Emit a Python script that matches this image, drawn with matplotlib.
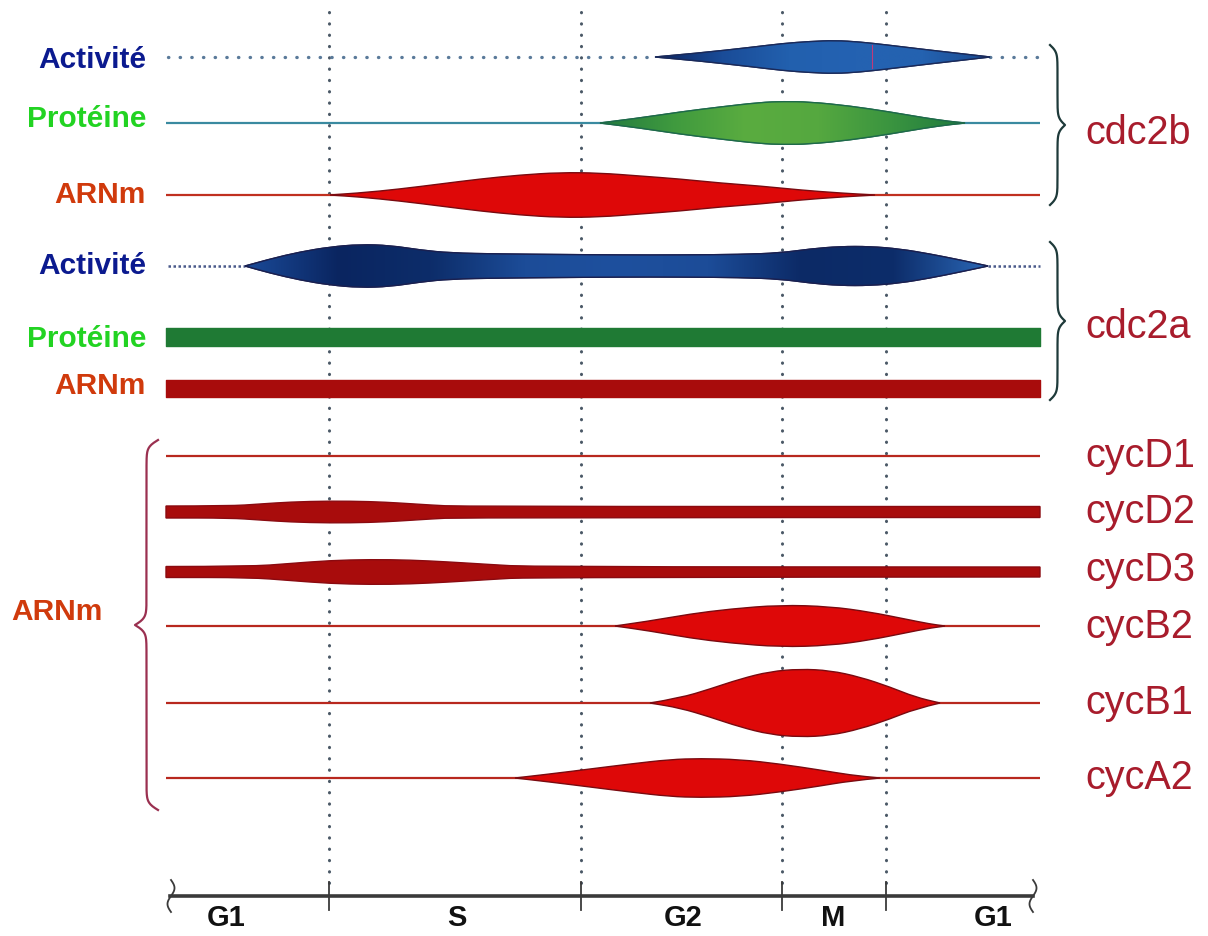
import numpy as np
import matplotlib.pyplot as plt
from matplotlib.colors import LinearSegmentedColormap
from matplotlib.path import Path
from matplotlib.patches import PathPatch

plt.rcParams['font.family'] = ['Liberation Sans', 'DejaVu Sans']

# cell cycle phases (x = position along the cycle, in picture units)
phase_edges = [329, 581, 782, 886]
phase_names = ['G1', 'S', 'G2', 'M', 'G1']
phase_centres = [226, 457, 683, 833, 993]
x_start, x_end = 166, 1040

# cdc2b
cdc2b_act_x = [655, 700, 750, 783, 810, 835, 860, 887, 920, 955, 990]
cdc2b_act_w = [0, 4, 9.5, 13.5, 15.5, 16.5, 15, 12, 8, 4, 0]
cdc2b_prot_x = [600, 640, 680, 720, 760, 783, 810, 850, 890, 925, 950, 965]
cdc2b_prot_w = [0, 5, 11, 16, 20.5, 21.5, 21, 17, 11, 5, 1.5, 0]
cdc2b_arn_x = [330, 360, 400, 440, 480, 520, 560, 600, 640, 680, 720, 760, 800, 840, 875]
cdc2b_arn_w = [0, 2, 6, 11, 16, 20, 22.5, 22, 19, 16, 12, 9, 5, 2, 0]

# cdc2a
cdc2a_act_x = [245, 270, 300, 330, 360, 390, 420, 450, 500, 560, 620, 680, 740,
               780, 810, 840, 870, 900, 930, 960, 988]
cdc2a_act_w = [0, 7, 14, 19, 21.5, 20.5, 16, 13, 12, 11.5, 11, 11, 11.5,
               13, 17, 19.5, 19.5, 17, 12, 6, 0]
cdc2a_prot_w = 9
cdc2a_arn_w = 8.5

# cyclines
cycD2_x = [166, 230, 260, 290, 330, 370, 400, 430, 460, 1040]
cycD2_w = [6, 6, 8, 10, 11, 10.5, 9, 7, 5.5, 5.5]
cycD3_x = [166, 250, 290, 330, 370, 410, 450, 490, 530, 1040]
cycD3_w = [5.5, 5.5, 8.5, 11.5, 12.5, 12, 10, 7.5, 5.2, 5]
cycB2_x = [615, 650, 690, 730, 780, 830, 870, 905, 930, 945]
cycB2_w = [0, 5, 12, 17, 21, 19.5, 14, 7, 2, 0]
cycB1_x = [650, 680, 710, 740, 770, 800, 830, 860, 890, 915, 940]
cycB1_w = [0, 5, 14, 24, 31.5, 34, 32.5, 26, 16, 6, 0]
cycA2_x = [515, 550, 590, 630, 670, 700, 740, 780, 820, 850, 880]
cycA2_w = [0, 4, 9, 14, 18.5, 19.5, 18.5, 14, 8, 3, 0]

left_labels = ['Activité', 'Protéine', 'ARNm', 'Activité', 'Protéine', 'ARNm']
right_labels = ['cycD1', 'cycD2', 'cycD3', 'cycB2', 'cycB1', 'cycA2']

NAVY = '#0b1a8f'
GREEN_TXT = '#22d322'
ORANGE = '#d03a0c'
WINE = '#a81c2c'
RED = '#de0808'
DARKRED = '#a80c0c'
DOT = '#4a5866'


def smooth_path(pts):
    # quadratic curve through the knots, using the knots as control points
    verts = [pts[0]]
    codes = [Path.MOVETO]
    for i in range(1, len(pts) - 1):
        mid = ((pts[i][0] + pts[i + 1][0]) / 2, (pts[i][1] + pts[i + 1][1]) / 2)
        verts += [pts[i], mid]
        codes += [Path.CURVE3, Path.CURVE3]
    verts.append(pts[-1])
    codes.append(Path.LINETO)
    return verts, codes


def shape(ax, yc, xs, hw, color, edge, grad=None):
    xs = np.asarray(xs, float)
    hw = np.asarray(hw, float)
    top = list(zip(xs, yc - hw))
    bot = list(zip(xs[::-1], (yc + hw)[::-1]))
    v1, c1 = smooth_path(top)
    v2, c2 = smooth_path(bot)
    c2[0] = Path.LINETO
    verts = v1 + v2 + [top[0]]
    codes = c1 + c2 + [Path.CLOSEPOLY]
    path = Path(verts, codes)
    p = PathPatch(path, facecolor=color, edgecolor=edge, lw=1.0, zorder=3)
    ax.add_patch(p)
    if grad:
        cmap = LinearSegmentedColormap.from_list('g', grad)
        img = ax.imshow(np.linspace(0, 1, 256)[None, :], cmap=cmap,
                        extent=[xs[0], xs[-1], yc + hw.max() + 1, yc - hw.max() - 1],
                        aspect='auto', interpolation='bilinear', zorder=3.5)
        img.set_clip_path(p)
        ax.add_patch(PathPatch(path, facecolor='none', edgecolor=edge, lw=1.0,
                               zorder=4))
    return p


def thin(ax, yc, color, lw=1.6):
    ax.plot([x_start, x_end], [yc, yc], color=color, lw=lw, zorder=2,
            solid_capstyle='butt')


def brace(ax, x0, y0, y1, w, color, lw=1.6, beta=0.28):
    half = (y1 - y0) / 2
    t = np.linspace(0, half, 200)
    h = 1 / (1 + np.exp(-beta * t)) + 1 / (1 + np.exp(-beta * (t - half))) - 0.5
    hh = np.concatenate([h, h[::-1]])
    yy = np.concatenate([y0 + t, y0 + half + t])
    ax.plot(x0 + w * hh, yy, color=color, lw=lw, zorder=2)


fig = plt.figure(figsize=(12.08, 9.36), dpi=100)
ax = fig.add_axes([0, 0, 1, 1])
ax.axis('off')

# vertical phase boundaries
for x in phase_edges:
    ax.plot([x, x], [12, 884], ls=(0, (0.1, 3.6)), dash_capstyle='round',
            lw=2.2, color=DOT, zorder=1)

# cdc2b
ax.plot([168, 655], [57, 57], ls=(0, (0.1, 3.4)), dash_capstyle='round',
        lw=2.4, color='#5a7a9a', zorder=2)
ax.plot([990, 1040], [57, 57], ls=(0, (0.1, 3.4)), dash_capstyle='round',
        lw=2.4, color='#5a7a9a', zorder=2)
shape(ax, 57, cdc2b_act_x, cdc2b_act_w, '#2460b0', '#1a2a5a',
      grad=['#0c2560', '#1a4c98', '#2260ae', '#2462b2', '#2462b0', '#1a4a90'])
ax.plot([872, 872], [45, 68], color='#c03a7a', lw=0.8, zorder=5)
thin(ax, 123, '#3a8aa0')
shape(ax, 123, cdc2b_prot_x, cdc2b_prot_w, '#4aa838', '#1e6a4a',
      grad=['#237a40', '#3f9a3e', '#5aac40', '#55a83f', '#3a9440', '#1f7a3e'])
thin(ax, 195, '#c03020')
shape(ax, 195, cdc2b_arn_x, cdc2b_arn_w, RED, '#7a0a10')

# cdc2a
ax.plot([168, 245], [266, 266], ls=(0, (1, 1)), lw=1.8, color='#4a5a8a', zorder=2)
ax.plot([988, 1040], [266, 266], ls=(0, (1, 1)), lw=1.8, color='#4a5a8a', zorder=2)
shape(ax, 266, cdc2a_act_x, cdc2a_act_w, '#1e4f9a', '#1a2050',
      grad=['#1a4a98', '#0a2560', '#0d2d6a', '#1c4c98', '#1e509e', '#1c4c98',
            '#0c2a66', '#0d2d6a', '#2a66b5'])
ax.fill_between([x_start, x_end], 337 - cdc2a_prot_w, 337 + cdc2a_prot_w,
                color='#1f7a34', zorder=3)
ax.fill_between([x_start, x_end], 388 - cdc2a_arn_w, 388 + cdc2a_arn_w,
                color=DARKRED, zorder=3)

# cyclines
thin(ax, 456, '#b8281e')
shape(ax, 512, cycD2_x, cycD2_w, DARKRED, '#8a0a10')
shape(ax, 572, cycD3_x, cycD3_w, DARKRED, '#8a0a10')
thin(ax, 626, '#b8281e')
shape(ax, 626, cycB2_x, cycB2_w, RED, '#7a0a10')
thin(ax, 703, '#b8281e')
shape(ax, 703, cycB1_x, cycB1_w, RED, '#7a0a10')
thin(ax, 778, '#b8281e')
shape(ax, 778, cycA2_x, cycA2_w, RED, '#7a0a10')

# left labels
left_y = [60, 119, 195, 266, 339, 386]
left_col = [NAVY, GREEN_TXT, ORANGE, NAVY, GREEN_TXT, ORANGE]
for lab, y, c in zip(left_labels, left_y, left_col):
    ax.text(146, y, lab, ha='right', va='center', fontsize=21.5,
            fontweight='bold', color=c)
ax.text(57, 612, 'ARNm', ha='center', va='center', fontsize=21.5,
        fontweight='bold', color=ORANGE)

# right labels
ax.text(1085, 133, 'cdc2b', ha='left', va='center', fontsize=28.5, color=WINE)
ax.text(1085, 327, 'cdc2a', ha='left', va='center', fontsize=28.5, color=WINE)
for lab, y in zip(right_labels, [456, 512, 570, 627, 703, 778]):
    ax.text(1085, y, lab, ha='left', va='center', fontsize=28.5, color=WINE)

# braces
brace(ax, 1050, 45, 205, 15, '#1e3a3a')
brace(ax, 1050, 242, 400, 15, '#1e3a3a')
brace(ax, 158, 440, 810, -23, '#9a3050')

# time axis
ax.plot([170, 1033], [896, 896], color='#3a3a3a', lw=2.6, zorder=2)
for x in phase_edges:
    ax.plot([x, x], [882, 910], color='#3a3a3a', lw=1.3, zorder=2)
for xs in [171, 1033]:
    yy = np.linspace(880, 912, 60)
    ax.plot(xs + 3.5 * np.sin((yy - 880) / 32 * 2 * np.pi), yy,
            color='#3a3a3a', lw=1.3)
for lab, x in zip(phase_names, phase_centres):
    ax.text(x, 918, lab, ha='center', va='center', fontsize=21,
            fontweight='bold', color='#111111')

ax.set_xlim(0, 1208)
ax.set_ylim(936, 0)

fig.savefig('out.png', dpi=100)
